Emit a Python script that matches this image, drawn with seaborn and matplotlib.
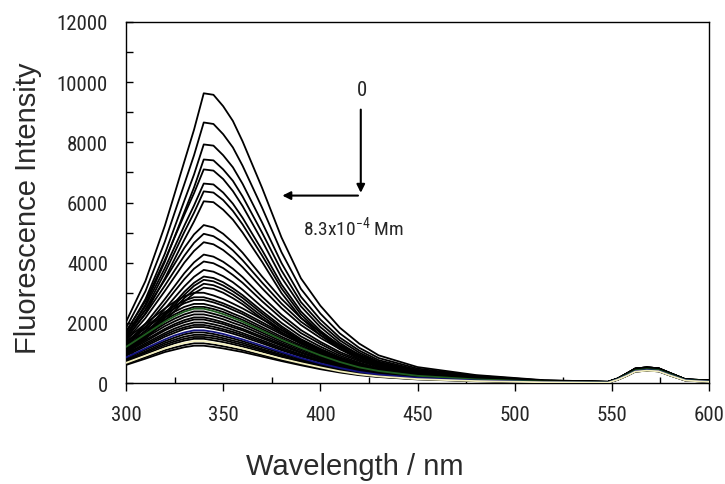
import matplotlib
matplotlib.use('Agg')
import matplotlib.pyplot as plt
from matplotlib import font_manager
from matplotlib.ticker import MultipleLocator
import seaborn as sns

# wavelengths (nm) at which each spectrum is read
wavelength = [300, 310, 320, 325, 330, 335, 340, 345, 350, 355, 360, 370, 380, 390, 400,
              410, 420, 430, 450, 480, 515, 548, 553, 558, 562, 568, 574, 580, 588, 600]

# fluorescence spectra, one per titration step (0 -> 8.3x10^-4 M)
s01 = [2030, 3390, 5230, 6290, 7360, 8420, 9630, 9580, 9200, 8710, 8030, 6490, 4840, 3480, 2570, 1840, 1310, 920, 530, 265, 95, 40, 150, 330, 480, 520, 490, 330, 120, 90]
s02 = [1830, 3050, 4700, 5660, 6610, 7570, 8660, 8610, 8270, 7830, 7220, 5830, 4350, 3130, 2310, 1650, 1170, 830, 480, 240, 85, 40, 150, 330, 480, 520, 490, 330, 120, 90]
s03 = [1670, 2790, 4300, 5180, 6060, 6930, 7930, 7890, 7570, 7170, 6620, 5340, 3990, 2870, 2110, 1510, 1080, 760, 440, 220, 80, 40, 150, 330, 480, 520, 490, 330, 120, 90]
s04 = [1570, 2610, 4030, 4860, 5680, 6500, 7430, 7400, 7100, 6720, 6200, 5000, 3740, 2690, 1980, 1420, 1010, 710, 410, 205, 75, 40, 150, 330, 480, 520, 490, 330, 120, 90]
s05 = [1720, 2720, 4090, 4840, 5590, 6310, 7100, 7060, 6780, 6380, 5880, 4730, 3510, 2550, 1860, 1330, 930, 660, 390, 195, 70, 40, 150, 330, 480, 520, 490, 330, 120, 90]
s06 = [1610, 2550, 3820, 4520, 5230, 5900, 6630, 6600, 6330, 5960, 5490, 4420, 3280, 2380, 1740, 1240, 870, 620, 360, 180, 65, 35, 145, 320, 465, 505, 475, 320, 115, 85]
s07 = [1540, 2440, 3670, 4340, 5020, 5660, 6370, 6330, 6080, 5720, 5270, 4240, 3150, 2280, 1670, 1190, 840, 590, 350, 175, 65, 35, 145, 320, 465, 505, 475, 320, 115, 85]
s08 = [1460, 2320, 3480, 4120, 4760, 5370, 6040, 6010, 5760, 5430, 5000, 4030, 2990, 2170, 1590, 1130, 790, 560, 330, 165, 60, 35, 145, 320, 465, 505, 475, 320, 115, 85]
s09 = [1580, 2430, 3430, 3960, 4490, 4940, 5250, 5170, 4960, 4670, 4330, 3540, 2800, 2160, 1690, 1270, 950, 690, 400, 200, 70, 35, 145, 320, 465, 505, 475, 320, 115, 85]
s10 = [1490, 2290, 3240, 3740, 4230, 4660, 4960, 4880, 4680, 4410, 4080, 3340, 2640, 2040, 1590, 1200, 900, 650, 370, 185, 65, 35, 145, 320, 465, 505, 475, 320, 115, 85]
s11 = [1410, 2160, 3060, 3530, 4000, 4390, 4680, 4610, 4420, 4160, 3850, 3150, 2490, 1930, 1500, 1130, 850, 610, 350, 175, 65, 30, 140, 310, 450, 490, 460, 310, 110, 75]
s12 = [1290, 1970, 2790, 3220, 3650, 4010, 4270, 4200, 4030, 3800, 3520, 2870, 2270, 1760, 1370, 1030, 770, 560, 320, 160, 60, 30, 140, 310, 450, 490, 460, 310, 110, 75]
s13 = [1220, 1870, 2640, 3050, 3450, 3800, 4040, 3980, 3820, 3590, 3330, 2720, 2150, 1660, 1300, 970, 730, 530, 300, 150, 55, 30, 140, 310, 450, 490, 460, 310, 110, 75]
s14 = [1130, 1740, 2460, 2840, 3210, 3530, 3760, 3700, 3550, 3350, 3100, 2530, 2000, 1550, 1210, 910, 680, 490, 280, 140, 50, 30, 140, 310, 450, 490, 460, 310, 110, 75]
s15 = [1070, 1640, 2310, 2670, 3030, 3330, 3540, 3490, 3350, 3150, 2920, 2390, 1890, 1460, 1140, 850, 640, 460, 270, 135, 50, 30, 140, 310, 450, 490, 460, 310, 110, 75]
s16 = [1040, 1590, 2240, 2590, 2930, 3230, 3430, 3380, 3240, 3050, 2830, 2310, 1830, 1410, 1100, 830, 620, 450, 260, 130, 45, 25, 135, 300, 435, 475, 445, 300, 105, 70]
s17 = [1000, 1530, 2160, 2490, 2820, 3100, 3300, 3250, 3120, 2940, 2720, 2220, 1760, 1360, 1060, 800, 600, 430, 250, 125, 45, 25, 135, 300, 435, 475, 445, 300, 105, 70]
s18 = [960, 1470, 2070, 2390, 2710, 2980, 3170, 3130, 3000, 2820, 2620, 2140, 1690, 1310, 1020, 770, 570, 410, 240, 120, 45, 25, 135, 300, 435, 475, 445, 300, 105, 70]
s19 = [1450, 1970, 2480, 2700, 2880, 3000, 3000, 2910, 2790, 2640, 2480, 2120, 1760, 1420, 1120, 850, 640, 480, 290, 145, 50, 25, 135, 300, 435, 475, 445, 300, 105, 70]
s20 = [1380, 1870, 2360, 2560, 2740, 2850, 2850, 2760, 2650, 2510, 2360, 2020, 1670, 1350, 1070, 810, 600, 460, 270, 135, 50, 25, 135, 300, 435, 475, 445, 300, 105, 70]
s21 = [1340, 1810, 2290, 2480, 2650, 2760, 2760, 2680, 2570, 2430, 2290, 1950, 1620, 1310, 1030, 780, 590, 450, 270, 135, 50, 20, 130, 290, 420, 460, 430, 290, 100, 60]
s22 = [1280, 1730, 2180, 2370, 2530, 2630, 2630, 2550, 2450, 2310, 2180, 1860, 1540, 1250, 980, 740, 560, 430, 250, 125, 45, 20, 130, 290, 420, 460, 430, 290, 100, 60]
s23 = [1230, 1660, 2100, 2280, 2430, 2530, 2530, 2460, 2360, 2230, 2100, 1790, 1480, 1200, 950, 720, 540, 410, 240, 120, 45, 20, 130, 290, 420, 460, 430, 290, 100, 60]
s24 = [1200, 1620, 2040, 2220, 2370, 2470, 2470, 2390, 2290, 2170, 2040, 1740, 1440, 1170, 920, 700, 520, 400, 240, 120, 45, 20, 130, 290, 420, 460, 430, 290, 100, 60]
s25 = [1150, 1560, 1970, 2140, 2280, 2380, 2380, 2300, 2210, 2090, 1970, 1680, 1390, 1130, 890, 670, 500, 380, 230, 115, 40, 20, 130, 290, 420, 460, 430, 290, 100, 60]
s26 = [1100, 1500, 1890, 2050, 2190, 2280, 2280, 2210, 2120, 2000, 1890, 1610, 1330, 1080, 850, 640, 480, 370, 220, 110, 40, 15, 125, 280, 410, 445, 420, 280, 95, 55]
s27 = [1060, 1430, 1800, 1960, 2090, 2180, 2180, 2110, 2020, 1910, 1800, 1540, 1280, 1030, 810, 620, 460, 350, 210, 105, 40, 15, 125, 280, 410, 445, 420, 280, 95, 55]
s28 = [1020, 1380, 1750, 1900, 2020, 2110, 2110, 2040, 1960, 1850, 1750, 1490, 1240, 1000, 790, 600, 450, 340, 200, 100, 35, 15, 125, 280, 410, 445, 420, 280, 95, 55]
s29 = [970, 1320, 1660, 1810, 1930, 2010, 2010, 1950, 1870, 1770, 1660, 1420, 1180, 950, 750, 570, 430, 320, 190, 95, 35, 15, 125, 280, 410, 445, 420, 280, 95, 55]
s30 = [940, 1270, 1600, 1740, 1850, 1930, 1930, 1870, 1790, 1700, 1600, 1370, 1130, 920, 720, 550, 410, 310, 190, 95, 35, 15, 125, 280, 410, 445, 420, 280, 95, 55]
s31 = [900, 1220, 1540, 1670, 1790, 1860, 1860, 1800, 1730, 1640, 1540, 1320, 1090, 880, 700, 530, 390, 300, 180, 90, 30, 15, 120, 265, 395, 430, 405, 265, 90, 50]
s32 = [850, 1150, 1450, 1580, 1680, 1750, 1750, 1700, 1630, 1540, 1450, 1240, 1030, 830, 650, 500, 370, 280, 170, 85, 30, 15, 120, 265, 395, 430, 405, 265, 90, 50]
s33 = [820, 1110, 1390, 1510, 1620, 1680, 1680, 1630, 1560, 1480, 1390, 1190, 990, 800, 630, 480, 360, 270, 160, 80, 30, 15, 120, 265, 395, 430, 405, 265, 90, 50]
s34 = [780, 1050, 1330, 1440, 1540, 1600, 1600, 1560, 1490, 1410, 1330, 1130, 940, 760, 600, 450, 340, 260, 150, 75, 25, 15, 120, 265, 395, 430, 405, 265, 90, 50]
s35 = [740, 1010, 1270, 1380, 1470, 1530, 1530, 1490, 1430, 1350, 1270, 1090, 900, 730, 570, 430, 330, 250, 150, 75, 25, 15, 120, 265, 395, 430, 405, 265, 90, 50]
s36 = [710, 960, 1210, 1320, 1410, 1470, 1470, 1420, 1360, 1290, 1210, 1040, 860, 700, 550, 410, 310, 240, 140, 70, 25, 10, 110, 250, 380, 410, 390, 250, 80, 40]
s37 = [670, 910, 1150, 1250, 1330, 1390, 1390, 1340, 1290, 1220, 1150, 980, 810, 660, 520, 390, 290, 220, 130, 65, 25, 10, 110, 250, 380, 410, 390, 250, 80, 40]
s38 = [640, 860, 1090, 1180, 1260, 1320, 1320, 1280, 1220, 1160, 1090, 930, 770, 630, 490, 370, 280, 210, 130, 65, 25, 10, 110, 250, 380, 410, 390, 250, 80, 40]
s39 = [600, 810, 1030, 1110, 1190, 1240, 1240, 1200, 1150, 1090, 1030, 880, 730, 590, 460, 350, 260, 200, 120, 60, 20, 10, 110, 250, 380, 410, 390, 250, 80, 40]

spectra = [s01, s02, s03, s04, s05, s06, s07, s08, s09, s10, s11, s12, s13,
           s14, s15, s16, s17, s18, s19, s20, s21, s22, s23, s24, s25, s26,
           s27, s28, s29, s30, s31, s32, s33, s34, s35, s36, s37, s38, s39]

# a few spectra in the original are drawn in colour
special_colors = {24: '#1f5c1f', 32: '#12127e', 37: '#f3efbd'}

# fonts: narrow sans if there is one, else Liberation Sans a bit smaller
names = {f.name for f in font_manager.fontManager.ttflist}
narrow = [n for n in ['Liberation Sans Narrow', 'Roboto Condensed', 'Open Sans Condensed']
          if n in names]
if narrow:
    tick_font, xtick_size, ytick_size = narrow[0], 15, 15
else:
    tick_font, xtick_size, ytick_size = 'Liberation Sans', 13, 14

sns.set_theme(style='ticks')
plt.rcParams['font.family'] = [tick_font, 'DejaVu Sans']
plt.rcParams['mathtext.fontset'] = 'custom'
plt.rcParams['mathtext.rm'] = tick_font
plt.rcParams['mathtext.default'] = 'regular'

fig = plt.figure(figsize=(7.25, 4.85), dpi=100)
ax = fig.add_axes([0.1738, 0.2082, 0.8042, 0.7444])

for i, row in enumerate(spectra, start=1):
    col = special_colors.get(i, 'black')
    sns.lineplot(x=wavelength, y=row, ax=ax, color=col, linewidth=1.3,
                 zorder=3 if i in special_colors else 2)

ax.set_xlim(300, 600)
ax.set_ylim(0, 12000)
ax.xaxis.set_major_locator(MultipleLocator(50))
ax.xaxis.set_minor_locator(MultipleLocator(25))
ax.yaxis.set_major_locator(MultipleLocator(2000))
ax.yaxis.set_minor_locator(MultipleLocator(1000))
ax.tick_params(axis='x', which='major', direction='out', length=6, width=1,
               labelsize=xtick_size, pad=10, color='black')
ax.tick_params(axis='x', which='minor', direction='in', length=4, width=1, color='black')
ax.tick_params(axis='y', which='both', direction='in', length=5, width=1,
               labelsize=ytick_size, pad=13, color='black')
for sp in ax.spines.values():
    sp.set_color('black')
    sp.set_linewidth(1)
ax.set_xlabel('')
ax.set_ylabel('')

# axis titles
fig.text(0.0386, 0.571, 'Fluorescence Intensity', rotation=90, ha='center', va='center',
         fontsize=21, family='Liberation Sans', color='#2a2a2a')
fig.text(0.49, 0.037, 'Wavelength / nm', ha='center', va='center',
         fontsize=21, family='Liberation Sans', color='#2a2a2a')

# titration arrows and labels
ax.annotate('', xy=(420.8, 6230), xytext=(420.8, 9180),
            arrowprops=dict(arrowstyle='-|>', color='black', lw=1.5, mutation_scale=12))
ax.annotate('', xy=(379, 6230), xytext=(420.8, 6230),
            arrowprops=dict(arrowstyle='-|>', color='black', lw=1.5, mutation_scale=12))
ax.text(421.3, 9750, '0', ha='center', va='center', fontsize=15)
ax.text(391, 5230, '8.3x10$^{-4}$ Mm', ha='left', va='center', fontsize=14)

fig.savefig('out.png', dpi=100)
